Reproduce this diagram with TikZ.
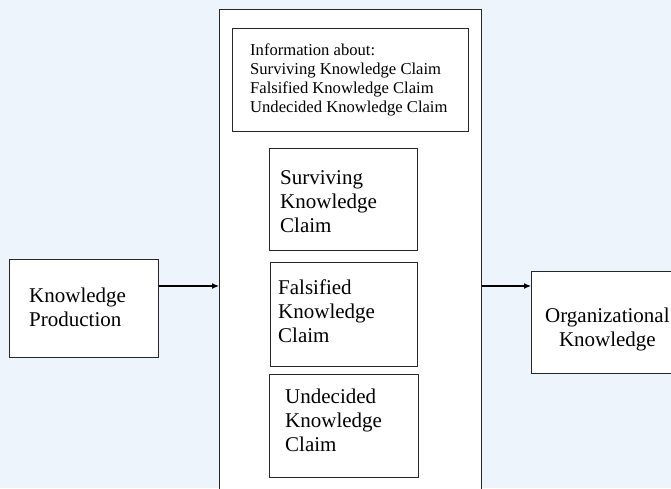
\documentclass[tikz,border=0pt]{standalone}
\usepackage{fontspec}
\setmainfont{Liberation Serif}
\usepackage{xcolor}
\usetikzlibrary{arrows.meta}
\definecolor{pagebg}{RGB}{238,244,252}

\begin{document}
\begin{tikzpicture}[x=1pt,y=-1pt,
  box/.style={draw=black!85, fill=white, line width=1.2pt, inner sep=0pt, anchor=north west},
  claimtxt/.style={anchor=base west, align=left, inner sep=0pt, font=\fontsize{21}{24}\selectfont},
  infotxt/.style={anchor=base west, align=left, inner sep=0pt, font=\fontsize{16.6}{19}\selectfont},
  flow/.style={-{Latex[length=7pt,width=6pt]}, line width=1.2pt}]
\fill[pagebg] (0,0) rectangle (671,488);
\useasboundingbox (0,0) rectangle (671,488);

\begin{scope}
\clip (0,0) rectangle (671,488);

% boxes
\node[box, minimum width=262pt, minimum height=500pt] (main) at (219,9) {};
\node[box, minimum width=236pt, minimum height=103pt] (info) at (232,28) {};
\node[box, minimum width=148pt, minimum height=102pt] (surv) at (269,148) {};
\node[box, minimum width=147pt, minimum height=104pt] (fals) at (270,262) {};
\node[box, minimum width=149pt, minimum height=103pt] (undec) at (269,374) {};
\node[box, minimum width=149pt, minimum height=98pt] (prod) at (9,259) {};
\node[box, minimum width=160pt, minimum height=102pt] (org) at (531,271) {};

% texts (anchored at the baseline of the last line)
\node[infotxt] (infolbl) at (250,112) {Information about:\\Surviving Knowledge Claim\\Falsified Knowledge Claim\\Undecided Knowledge Claim};
\node[claimtxt] (survlbl) at (280,232) {Surviving\\Knowledge\\Claim};
\node[claimtxt] (falslbl) at (278,342) {Falsified\\Knowledge\\Claim};
\node[claimtxt] (undeclbl) at (285,451) {Undecided\\Knowledge\\Claim};
\node[claimtxt] (prodlbl) at (29,326) {Knowledge\\Production};
\node[claimtxt, align=center] (orglbl) at (545,346) {Organizational\\Knowledge};

% arrows
\coordinate (row) at (0,286);
\draw[flow] (prod.east |- row) -- (main.west |- row);
\draw[flow] (main.east |- row) -- (org.west |- row);
\end{scope}

\end{tikzpicture}
\end{document}
